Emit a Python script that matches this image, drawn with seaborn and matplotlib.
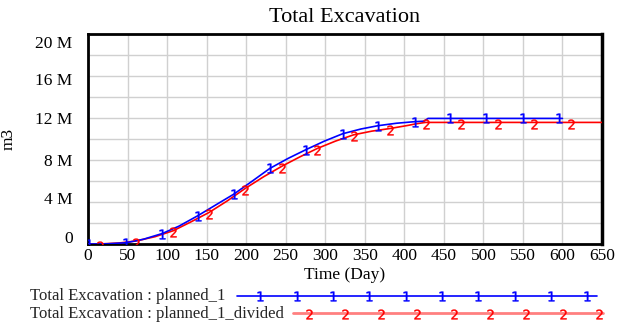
import numpy as np
import pandas as pd
import matplotlib
matplotlib.use("Agg")
import matplotlib.pyplot as plt
import matplotlib.transforms as mtransforms
from matplotlib.lines import Line2D
import seaborn as sns

# ---- data (values in millions of m3) ----
days_planned = [0, 25, 48, 70, 94, 115, 139, 160, 184, 207, 230, 253, 276, 299,
                322, 345, 367, 390, 413, 425, 430, 600]
vals_planned = [0, 0.02, 0.12, 0.45, 1.0, 1.7, 2.7, 3.65, 4.73, 5.95, 7.2, 8.15,
                9.0, 9.8, 10.5, 10.95, 11.27, 11.5, 11.65, 11.7, 11.96, 11.96]
days_divided = [0, 15, 40, 61, 85, 108, 130, 153, 176, 199, 222, 245, 268, 290,
                313, 336, 359, 382, 405, 415, 427, 650]
vals_divided = [0, 0, 0.1, 0.29, 0.7, 1.27, 2.1, 3.0, 4.1, 5.3, 6.4, 7.4, 8.3,
                9.1, 9.8, 10.4, 10.75, 11.0, 11.3, 11.45, 11.58, 11.58]
marker_days_planned = [1, 48, 94, 139, 184, 230, 276, 322, 367, 413, 458, 503, 550, 596]
marker_days_divided = [15, 61, 108, 153, 199, 245, 290, 336, 382, 427, 472, 518, 564, 611]
x_ticks = list(range(0, 651, 50))
y_ticks = [0, 4, 8, 12, 16, 20]
y_tick_labels = ["0", "4 M", "8 M", "12 M", "16 M", "20 M"]
series_names = ["Total Excavation : planned_1", "Total Excavation : planned_1_divided"]

sns.set_theme(style="white")
plt.rcParams['font.family'] = ['Liberation Serif', 'DejaVu Serif']

W, H = 624, 335
fig = plt.figure(figsize=(W / 100, H / 100), dpi=100)
ax = fig.add_axes([88 / W, 1 - 244 / H, (602 - 88) / W, (244 - 34) / H])

df1 = pd.DataFrame({"day": days_planned, "val": vals_planned})
df2 = pd.DataFrame({"day": days_divided, "val": vals_divided})
sns.lineplot(data=df2, x="day", y="val", color="#ff0000", lw=1.2, ax=ax,
             estimator=None, sort=False, zorder=3)
sns.lineplot(data=df1, x="day", y="val", color="#0000ff", lw=1.2, ax=ax,
             estimator=None, sort=False, zorder=4)

m1 = np.interp(marker_days_planned, days_planned, vals_planned)
m2 = np.interp(marker_days_divided, days_divided, vals_divided)
mk = dict(ls="none", ms=7, mew=0.3)
ax.plot(marker_days_planned, m1, marker="$1$", color="#0000ff", zorder=5, **mk)
ax.plot(marker_days_divided, m2 - 0.15, marker="$2$", color="#ff0000", zorder=5, **mk)

ax.set_xlim(0, 650)
ax.set_ylim(0, 20)
ax.set_xticks(x_ticks, labels=[str(t) for t in x_ticks])
ax.set_yticks(y_ticks, labels=y_tick_labels)
ax.set_yticks(np.arange(0, 21, 2), minor=True)
ax.grid(True, which="both", color="#d0d0d0", lw=1.0)
ax.set_axisbelow(True)
ax.tick_params(axis="both", which="both", length=0, labelsize=12.5, colors="black")
ax.tick_params(axis="y", pad=11)
ax.tick_params(axis="x", pad=3)

# shift y tick labels as in the reference
offsets = {0: -7, 4: -4, 8: 0, 12: 0, 16: 3, 20: 8}
for tick, lab in zip(y_ticks, ax.get_yticklabels()):
    lab.set_transform(lab.get_transform() + mtransforms.ScaledTranslation(
        0, -offsets[tick] / 100, fig.dpi_scale_trans))

for s in ax.spines.values():
    s.set_color("black")
    s.set_visible(True)
ax.spines["left"].set_linewidth(2)
ax.spines["bottom"].set_linewidth(2)
ax.spines["right"].set_linewidth(2.5)
ax.spines["top"].set_linewidth(2)

ax.set_xlabel("Time (Day)", fontsize=12.5, labelpad=2, color="black")
ax.set_ylabel("m3", fontsize=12.5, color="black")
ax.yaxis.set_label_coords(-(88 - 17) / (602 - 88), 0.5)
ax.set_title("Total Excavation", fontsize=16, pad=9, color="black")

# ---- legend drawn Vensim-style ----
def fx(px):
    return px / W

def fy(py):
    return 1 - py / H

fig.text(fx(30), fy(296), series_names[0], fontsize=12, va="center", ha="left")
fig.text(fx(30), fy(314), series_names[1], fontsize=12, va="center", ha="left")
fig.add_artist(Line2D([fx(237), fx(597)], [fy(296), fy(296)], color="#0000ff", lw=1.2,
                      transform=fig.transFigure))
leg1_x = [fx(v) for v in [260, 297, 333, 369, 406, 442, 478, 515, 551, 587]]
fig.add_artist(Line2D(leg1_x, [fy(296)] * len(leg1_x), marker="$1$",
                      color="#0000ff", transform=fig.transFigure, **mk))
fig.add_artist(Line2D([fx(293), fx(603)], [fy(313), fy(313)], color="#ff8080", lw=2,
                      transform=fig.transFigure))
leg2_x = [fx(v) for v in [309, 345, 381, 417, 454, 490, 526, 563, 599]]
fig.add_artist(Line2D(leg2_x, [fy(314)] * len(leg2_x), marker="$2$",
                      color="#ff0000", transform=fig.transFigure, **mk))

fig.savefig("out.png", dpi=100, facecolor="white")
